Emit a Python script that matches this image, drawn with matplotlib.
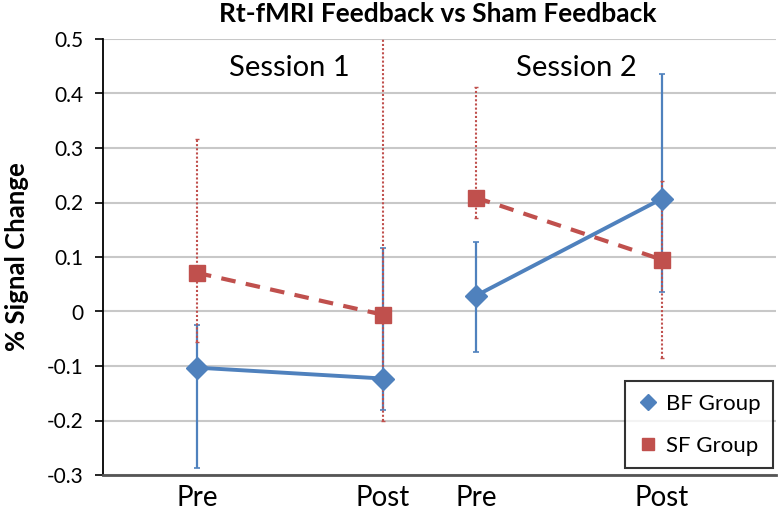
import matplotlib.pyplot as plt
import numpy as np

plt.rcParams['font.family'] = ['Lato', 'DejaVu Sans']

# Data
tick_labels = ['Pre', 'Post', 'Pre', 'Post']
x_vals = [1, 3, 4, 6]
session_labels = ['Session 1', 'Session 2']

bf_mean = [-0.103, -0.123, 0.029, 0.207]
bf_upper = [-0.025, 0.117, 0.128, 0.436]
bf_lower = [-0.288, -0.180, -0.074, 0.036]

sf_mean = [0.071, -0.006, 0.209, 0.095]
sf_upper = [0.316, 0.560, 0.412, 0.239]
sf_lower = [-0.056, -0.200, 0.172, -0.086]

blue = '#4F81BD'
red = '#C0504D'

fig = plt.figure(figsize=(7.79, 5.16), dpi=100)
ax = fig.add_axes([103 / 779, 41 / 516, 673 / 779, 436 / 516])

x = np.array(x_vals)
bf_m = np.array(bf_mean)
sf_m = np.array(sf_mean)
bf_err = [bf_m - np.array(bf_lower), np.array(bf_upper) - bf_m]
sf_err = [sf_m - np.array(sf_lower), np.array(sf_upper) - sf_m]

# error bars
ax.errorbar(x, bf_m, yerr=bf_err, fmt='none', ecolor=blue, elinewidth=1.6,
            capsize=2, capthick=1.2, zorder=3)
eb = ax.errorbar(x, sf_m, yerr=sf_err, fmt='none', ecolor=red, elinewidth=1.5,
                 capsize=1.5, capthick=1.0, zorder=4)
for lc in eb[2]:
    lc.set_linestyle((0, (1, 1)))

# session lines
for s in range(2):
    idx = slice(2 * s, 2 * s + 2)
    ax.plot(x[idx], bf_m[idx], color=blue, lw=2.8, marker='D', ms=11,
            zorder=5, label='BF Group' if s == 0 else None)
    ax.plot(x[idx], sf_m[idx], color=red, lw=3, ls=(0, (3.5, 2.5)), marker='s',
            ms=12, zorder=6, label='SF Group' if s == 0 else None)

ax.set_xlim(-0.01, 7.226)
ax.set_ylim(-0.3, 0.5)
ax.set_yticks(np.arange(-0.3, 0.51, 0.1))
ax.set_yticklabels(['-0.3', '-0.2', '-0.1', '0', '0.1', '0.2', '0.3', '0.4', '0.5'],
                   fontsize=15)
ax.set_xticks(x_vals)
ax.set_xticklabels(tick_labels, fontsize=20)
ax.tick_params(axis='x', length=0, pad=7)
ax.tick_params(axis='y', direction='out', length=6, width=1.2, color='black',
               pad=8)

ax.yaxis.grid(True, color='#c8c8c8', lw=1.5)
ax.set_axisbelow(True)
for side in ['top', 'right']:
    ax.spines[side].set_visible(False)
ax.spines['left'].set_color('black')
ax.spines['left'].set_linewidth(1.3)
ax.spines['bottom'].set_color('#555555')
ax.spines['bottom'].set_linewidth(2)

ax.text(1.99, 0.447, session_labels[0], fontsize=21, ha='center', va='center')
ax.text(5.08, 0.447, session_labels[1], fontsize=21, ha='center', va='center')

ax.set_ylabel('% Signal Change', fontsize=18.5, fontweight='bold')
ax.yaxis.set_label_coords(-(103 - 29) / 673, 0.5)
fig.text(438 / 779, 1 - 14 / 516, 'Rt-fMRI Feedback vs Sham Feedback',
         fontsize=19, fontweight='bold', ha='center', va='center')

leg = ax.legend(loc='lower right', bbox_to_anchor=(0.9955, 0.016), fontsize=16,
                frameon=True, fancybox=False, edgecolor='black',
                labelspacing=1.0, handlelength=1.0, borderpad=0.55,
                handletextpad=0.3, borderaxespad=0, markerscale=0.7)
leg.get_frame().set_linewidth(1.5)
for h in leg.get_lines():
    h.set_linestyle('none')

fig.savefig('out.png', dpi=100)
